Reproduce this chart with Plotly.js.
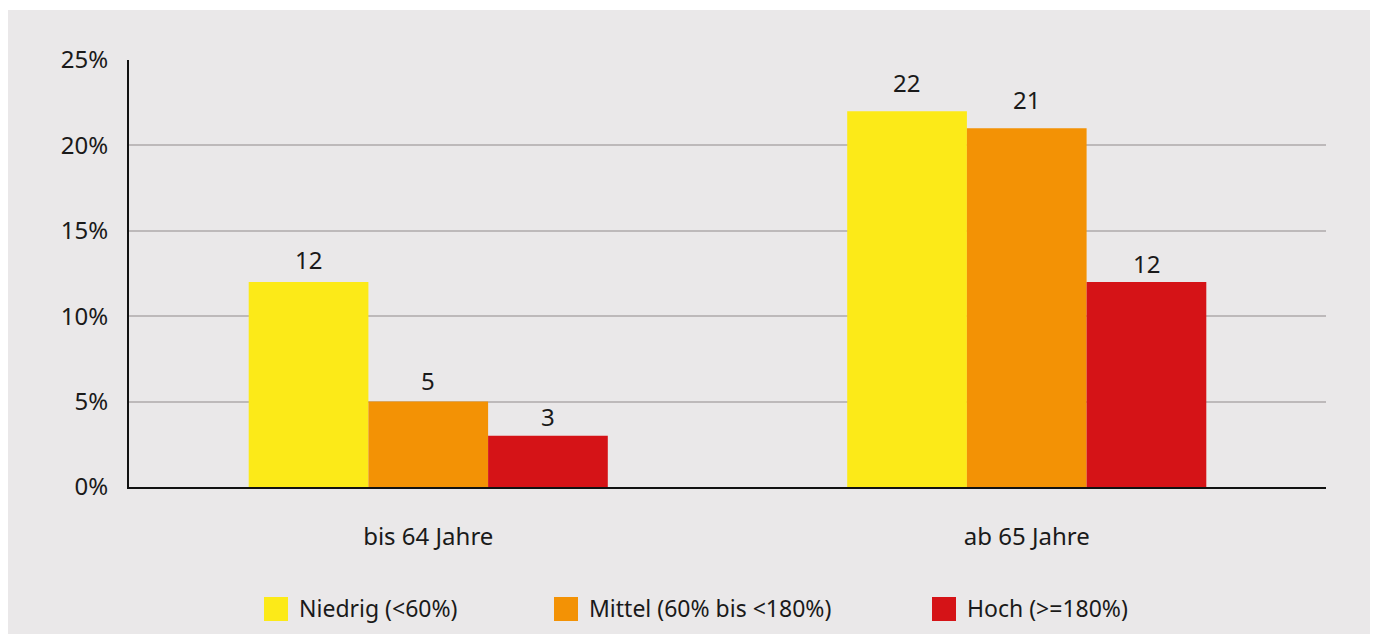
<!DOCTYPE html>
<html>
<head>
<meta charset="utf-8">
<script src="https://cdn.plot.ly/plotly-3.0.1.min.js"></script>
<style>
  html, body { margin: 0; padding: 0; background: #ffffff; }
  #chart { width: 1375px; height: 636px; }
</style>
</head>
<body>
<div id="chart"></div>
<script>
// ---- Data ----
const categories = ["bis 64 Jahre", "ab 65 Jahre"];
const seriesNames = ["Niedrig (<60%)", "Mittel (60% bis <180%)", "Hoch (>=180%)"];
const niedrig = [12, 22];
const mittel = [5, 21];
const hoch = [3, 12];
const yTickVals = [0, 5, 10, 15, 20, 25];
const yTickText = ["0%", "5%", "10%", "15%", "20%", "25%"];

// ---- Style ----
const colors = ["#FCEA18", "#F39205", "#D51317"];
const seriesValues = [niedrig, mittel, hoch];
const W = 1375, H = 636;
const M = { l: 129, r: 49, t: 60, b: 149 };
const PW = W - M.l - M.r, PH = H - M.t - M.b;
const px = x => (x - M.l) / PW;
const py = y => (H - M.b - y) / PH;
const FONT = "Noto Sans, sans-serif";
const TXT = "#1a1a1a";
// label offsets above bar tops (pixels), per series then category
const labelShift = [[23, 29], [21, 29], [19, 19]];
const barStep = 120;

const traces = seriesValues.map((vals, i) => ({
  type: "bar",
  name: seriesNames[i],
  x: categories,
  y: vals,
  marker: { color: colors[i], line: { width: 0 } },
  showlegend: false,
  hoverinfo: "skip"
}));

const annotations = [];
seriesValues.forEach((vals, i) => {
  vals.forEach((v, j) => {
    annotations.push({
      x: categories[j], y: v, xref: "x", yref: "y",
      text: String(v), showarrow: false,
      xshift: (i - 1) * barStep, yshift: labelShift[i][j],
      yanchor: "middle", xanchor: "center",
      font: { family: FONT, size: 24, color: TXT }
    });
  });
});

const shapes = [
  { type: "rect", xref: "paper", yref: "paper", layer: "below",
    x0: px(8), x1: px(1370), y0: py(634), y1: py(10),
    fillcolor: "#EAE8E9", line: { width: 0 } }
];

const legendX = [264, 554, 932];
seriesNames.forEach((n, i) => {
  shapes.push({ type: "rect", xref: "paper", yref: "paper",
    x0: px(legendX[i]), x1: px(legendX[i] + 24), y0: py(621), y1: py(597),
    fillcolor: colors[i], line: { width: 0 } });
  annotations.push({ xref: "paper", yref: "paper",
    x: px(legendX[i] + 33), y: py(608), xanchor: "left", yanchor: "middle",
    text: n, showarrow: false,
    font: { family: FONT, size: 23, color: TXT } });
});

const layout = {
  width: W, height: H,
  margin: M,
  paper_bgcolor: "#ffffff",
  plot_bgcolor: "rgba(0,0,0,0)",
  barmode: "group",
  bargap: 0.4,
  bargroupgap: 0,
  showlegend: false,
  font: { family: FONT, size: 24, color: TXT },
  xaxis: {
    type: "category",
    showgrid: false, zeroline: false,
    showline: true, linecolor: "#111111", linewidth: 2,
    ticks: "", ticklabelstandoff: 27,
    tickfont: { family: FONT, size: 24, color: TXT },
    fixedrange: true
  },
  yaxis: {
    range: [0, 25],
    tickvals: yTickVals, ticktext: yTickText,
    showgrid: true, gridcolor: "#BDB9BA", gridwidth: 2,
    zeroline: false,
    showline: true, linecolor: "#111111", linewidth: 2,
    ticks: "", ticklabelstandoff: 14,
    tickfont: { family: FONT, size: 24, color: TXT },
    fixedrange: true
  },
  shapes: shapes,
  annotations: annotations
};

Plotly.newPlot("chart", traces, layout, { displayModeBar: false, staticPlot: true });
</script>
</body>
</html>
